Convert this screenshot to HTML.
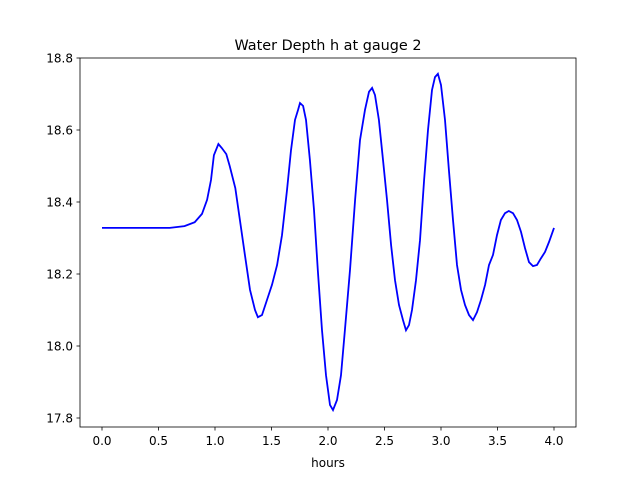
<!DOCTYPE html>
<html><head><meta charset="utf-8"><style>
body{margin:0;background:#fff;}
svg{display:block;font-family:"DejaVu Sans","Liberation Sans",sans-serif;}
</style></head><body>
<svg id="chart" width="640" height="480">
<rect x="0" y="0" width="640" height="480" fill="#fff"/>
<text x="328" y="50" font-size="14.4" text-anchor="middle">Water Depth h at gauge 2</text>
<text x="328" y="467" font-size="12" text-anchor="middle">hours</text>
<g id="ticks"></g>
<path id="line" fill="none" stroke="#0000ff" stroke-width="1.8"/>
<rect x="80" y="58" width="496" height="369" fill="none" stroke="#000" stroke-width="0.8"/>
</svg>
<script>
const hours=[0,0.6,0.73,0.82,0.885,0.93,0.965,0.99,1.03,1.06,1.1,1.13,1.18,1.22,1.265,1.31,1.354,1.38,1.416,1.46,1.504,1.55,1.593,1.637,1.673,1.708,1.735,1.752,1.78,1.805,1.84,1.876,1.91,1.947,1.982,2.018,2.044,2.08,2.115,2.15,2.195,2.24,2.283,2.327,2.363,2.39,2.416,2.45,2.487,2.522,2.558,2.593,2.628,2.664,2.69,2.717,2.743,2.779,2.814,2.85,2.885,2.92,2.947,2.973,3.0,3.035,3.07,3.106,3.142,3.177,3.212,3.248,3.283,3.319,3.354,3.39,3.425,3.46,3.496,3.53,3.566,3.6,3.637,3.673,3.708,3.743,3.779,3.814,3.85,3.885,3.92,3.956,4.0];
const depth=[18.328,18.328,18.333,18.344,18.367,18.406,18.461,18.53,18.561,18.55,18.533,18.5,18.439,18.35,18.253,18.156,18.1,18.08,18.086,18.128,18.17,18.225,18.308,18.433,18.544,18.628,18.656,18.675,18.667,18.628,18.517,18.378,18.211,18.044,17.919,17.836,17.822,17.85,17.919,18.044,18.211,18.406,18.572,18.656,18.706,18.717,18.697,18.628,18.517,18.406,18.28,18.183,18.114,18.072,18.044,18.058,18.1,18.183,18.294,18.461,18.6,18.711,18.747,18.756,18.725,18.628,18.489,18.35,18.225,18.156,18.114,18.086,18.072,18.094,18.128,18.17,18.225,18.253,18.308,18.35,18.369,18.375,18.369,18.35,18.317,18.272,18.233,18.222,18.225,18.244,18.261,18.289,18.328];
const xTicks=[0,0.5,1,1.5,2,2.5,3,3.5,4];
const xTickLabels=["0.0","0.5","1.0","1.5","2.0","2.5","3.0","3.5","4.0"];
const yTicks=[17.8,18.0,18.2,18.4,18.6,18.8];
const yTickLabels=["17.8","18.0","18.2","18.4","18.6","18.8"];
const X=v=>102+v*113;
const Y=v=>58+(18.8-v)*360;
const NS="http://www.w3.org/2000/svg";
const g=document.getElementById('ticks');
function mk(tag,attrs){const e=document.createElementNS(NS,tag);for(const k in attrs)e.setAttribute(k,attrs[k]);return e;}
xTicks.forEach((t,i)=>{
  const l=mk('line',{x1:X(t),x2:X(t),y1:427,y2:430.5,stroke:'#000','stroke-width':0.8});
  
  
  g.appendChild(l);
  const tx=mk('text',{x:X(t),y:445,'font-size':12,'text-anchor':'middle'});
  tx.textContent=xTickLabels[i];
  
  
  g.appendChild(tx);
});
yTicks.forEach((t,i)=>{
  const l=mk('line',{x1:76.5,x2:80,y1:Y(t),y2:Y(t),stroke:'#000','stroke-width':0.8});
  
  
  g.appendChild(l);
  const tx=mk('text',{x:73,y:Y(t)+4.5,'font-size':12,'text-anchor':'end'});
  tx.textContent=yTickLabels[i];
  
  
  g.appendChild(tx);
});
document.getElementById('line').setAttribute('d',hours.map((h,i)=>(i?'L':'M')+X(h).toFixed(1)+','+Y(depth[i]).toFixed(1)).join(''));
</script>
</body></html>
